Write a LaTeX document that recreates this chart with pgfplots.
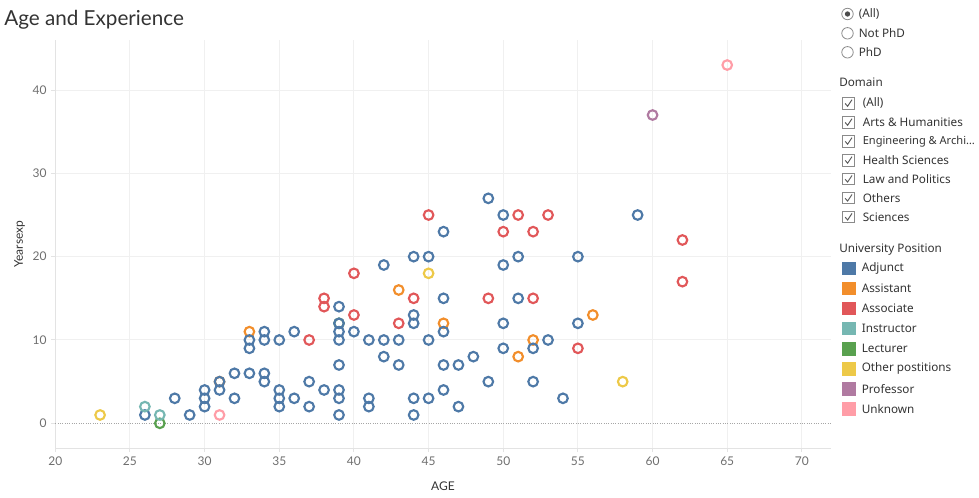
\documentclass[border=0pt]{standalone}
\usepackage{pgfplots}
\pgfplotsset{compat=1.18}
\usepackage{fontspec}
\setmainfont{Lato}
\newfontfamily\uifont{Noto Sans}
\definecolor{cAdj}{HTML}{4E79A7}
\definecolor{cAss}{HTML}{F28E2B}
\definecolor{cAsc}{HTML}{E15759}
\definecolor{cIns}{HTML}{76B7B2}
\definecolor{cLec}{HTML}{59A14F}
\definecolor{cOth}{HTML}{EDC948}
\definecolor{cPro}{HTML}{B07AA1}
\definecolor{cUnk}{HTML}{FF9DA7}
\definecolor{gridc}{HTML}{F0F0F0}
\definecolor{axisc}{HTML}{E3E3E3}
\definecolor{tickc}{HTML}{6E6E6E}
\definecolor{labc}{HTML}{333333}
\definecolor{uic}{HTML}{333333}
\definecolor{boxc}{HTML}{8A8A8A}
\pgfplotsset{pos/.style={only marks, mark=o, mark size=3.6pt, mark options={line width=1.6pt, draw=#1}}}
\begin{document}
\begin{tikzpicture}
\useasboundingbox (0,0) rectangle (734.25pt,372.75pt);
\begin{axis}[
  at={(41.475pt,36.525pt)}, anchor=south west,
  scale only axis, width=581.55pt, height=306.2pt,
  xmin=20, xmax=71.93, ymin=-3, ymax=46,
  xtick={20,25,...,70}, ytick={10,20,30,40},
  extra y ticks={0},
  extra y tick style={major grid style={densely dotted, color=black!35, line width=0.6pt}},
  grid=major, major grid style={color=gridc, line width=0.75pt},
  axis x line*=bottom, axis y line*=left,
  axis line style={draw=axisc, line width=0.75pt},
  tick style={draw=axisc, line width=0.75pt},
  tick align=outside, major tick length=3pt,
  ticklabel style={font=\fontsize{9}{10}\selectfont, text=tickc},
  /pgf/number format/assume math mode=true,
  xlabel={AGE}, ylabel={Yearsexp},
  label style={font=\fontsize{9}{10}\selectfont, text=labc},
  xlabel style={yshift=-5pt},
  ylabel style={yshift=-7pt},
]
\addplot[pos=cLec] coordinates {(27,0) (39,12)};
\addplot[pos=cAss] coordinates {(31,5) (33,11) (43,16) (46,12) (51,8) (52,10) (56,13)};
\addplot[pos=cAdj] coordinates {
(26,1) (28,3) (29,1) (30,4) (30,3) (30,2) (31,5) (31,4) (32,3) (32,6)
(33,6) (33,10) (33,9) (34,11) (34,10) (34,6) (34,5) (35,10) (35,4) (35,3)
(35,2) (36,11) (36,3) (37,5) (37,2) (38,4) (39,14) (39,12) (39,11) (39,10)
(39,7) (39,4) (39,3) (39,1) (40,11) (41,10) (41,3) (41,2) (42,19) (42,10)
(42,8) (43,10) (43,7) (44,20) (44,13) (44,12) (44,3) (44,1) (45,20) (45,10)
(45,3) (46,23) (46,15) (46,11) (46,7) (46,4) (47,7) (47,2) (48,8) (49,27)
(49,5) (50,25) (50,19) (50,12) (50,9) (51,20) (51,15) (52,9) (52,5) (53,10)
(54,3) (55,20) (55,12) (59,25)};
\addplot[pos=cAsc] coordinates {
(37,10) (38,15) (38,14) (40,18) (40,13) (43,12) (44,15) (45,25) (49,15)
(50,23) (51,25) (52,23) (52,15) (53,25) (55,9) (62,22) (62,17)};
\addplot[pos=cIns] coordinates {(26,2) (27,1)};
\addplot[pos=cOth] coordinates {(23,1) (45,18) (58,5)};
\addplot[pos=cPro] coordinates {(60,37)};
\addplot[pos=cUnk] coordinates {(31,1) (65,43)};
\end{axis}
\begin{scope}[x=0.75pt, y=-0.75pt, shift={(0,372.75pt)}]
\node[anchor=base west, inner sep=0, text=labc, font=\fontsize{15.5}{17}\selectfont] at (4,26) {Age and Experience};
% radio buttons
\foreach \yy/\tt in {14/(All), 33.3/Not PhD, 52.3/PhD}{
  \draw[boxc, line width=0.6pt, fill=white] (847.5,\yy) circle[radius=4.3pt];
  \node[anchor=west, inner sep=0, text=uic, font=\uifont\fontsize{8.8}{10}\selectfont] at (858.5,\yy) {\tt};
}
\fill[black!70] (847.5,14) circle[radius=2pt];
\node[anchor=west, inner sep=0, text=uic, font=\uifont\fontsize{8.8}{10}\selectfont] at (839,82.7) {Domain};
\foreach \yy/\tt in {103.3/(All), 122.3/Arts \& Humanities, 141.2/{\fontsize{8.3}{10}\selectfont Engineering \& Archi…}, 160.2/Health Sciences, 179.1/Law and Politics, 198.1/Others, 217/Sciences}{
  \draw[boxc, line width=0.6pt, fill=white] (842.5,\yy-5.8) rectangle (854.5,\yy+5.8);
  \draw[black!65, line width=0.7pt] (845.2,\yy+0.2) -- (847.6,\yy+3) -- (852,\yy-3.6);
  \node[anchor=west, inner sep=0, text=uic, font=\uifont\fontsize{8.8}{10}\selectfont] at (862.5,\yy) {\tt};
}
\node[anchor=west, inner sep=0, text=uic, font=\uifont\fontsize{8.8}{10}\selectfont] at (839,249.3) {University Position};
\foreach \yy/\cc/\tt in {268.7/cAdj/Adjunct, 288.7/cAss/Assistant, 308.7/cAsc/Associate, 328.8/cIns/Instructor, 348.8/cLec/Lecturer, 368.9/cOth/Other postitions, 388.9/cPro/Professor, 408.9/cUnk/Unknown}{
  \fill[\cc] (842,\yy-6.7) rectangle (856,\yy+6.7);
  \node[anchor=west, inner sep=0, text=uic, font=\uifont\fontsize{8.8}{10}\selectfont] at (861.5,\yy) {\tt};
}
\end{scope}
\end{tikzpicture}
\end{document}
